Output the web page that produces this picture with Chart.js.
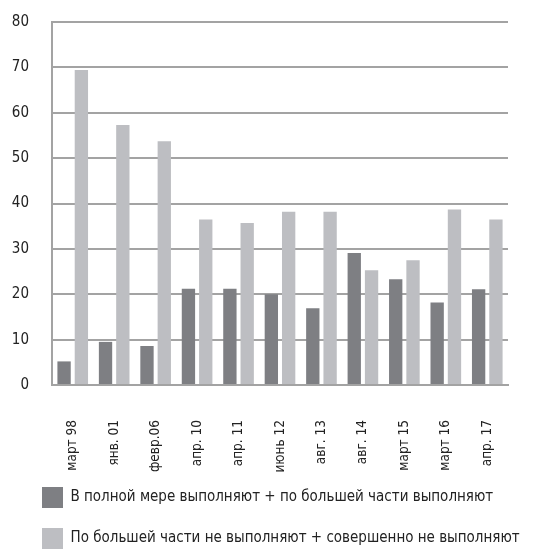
<!DOCTYPE html>
<html><head><meta charset="utf-8">
<script src="https://cdn.jsdelivr.net/npm/chart.js@4/dist/chart.umd.min.js"></script>
<style>html,body{margin:0;padding:0;background:#fff}#wrap{width:546px;height:552px}</style>
</head><body><div id="wrap"><canvas id="c"></canvas></div>
<script>
const categories = ['март 98','янв. 01','февр.06','апр. 10','апр. 11','июнь 12','авг. 13','авг. 14','март 15','март 16','апр. 17'];
const seriesNames = ['В полной мере выполняют + по большей части выполняют','По большей части не выполняют + совершенно не выполняют'];
const fulfil = [5.2, 9.5, 8.6, 21.2, 21.2, 20.0, 16.9, 29.1, 23.3, 18.2, 21.1];
const notFulfil = [69.4, 57.3, 53.7, 36.5, 35.7, 38.2, 38.2, 25.3, 27.5, 38.7, 36.5];
const yTicks = [0,10,20,30,40,50,60,70,80];

const FONT = "'Liberation Sans Narrow','DejaVu Sans Condensed','Liberation Sans',sans-serif";
const shiftLegend = {
  id: 'shiftLegend',
  afterLayout(chart) {
    const lg = chart.legend;
    if (lg) { lg.left += 22; lg.right += 22; }
    const x = chart.scales.x;
    if (x) { x.bottom += 20; }
  }
};
new Chart(document.getElementById('c'), {
  type: 'bar',
  data: {
    labels: categories,
    datasets: [
      {label: seriesNames[0], data: fulfil, backgroundColor: '#7e7f83', barPercentage: 0.77, categoryPercentage: 0.835},
      {label: seriesNames[1], data: notFulfil, backgroundColor: '#bdbec2', barPercentage: 0.77, categoryPercentage: 0.835}
    ]
  },
  plugins: [shiftLegend],
  options: {
    responsive: true, maintainAspectRatio: false, animation: false,
    layout: {padding: {left: 0, right: 38, top: 22, bottom: -7}},
    plugins: {
      tooltip: {enabled: false},
      legend: {
        position: 'bottom', align: 'start',
        labels: {boxWidth: 21, boxHeight: 21, padding: 20, color: '#222', font: {family: FONT, size: 15}}
      }
    },
    scales: {
      x: {
        afterFit: (s) => { s.height = 82; s.paddingLeft = 0; s.paddingRight = 0; },
        grid: {display: false, drawTicks: false},
        border: {color: '#a3a3a3', width: 2},
        ticks: {maxRotation: 90, minRotation: 90, padding: 35, color: '#222', font: {family: FONT, size: 13.5}}
      },
      y: {
        min: 0, max: 80,
        afterBuildTicks: (s) => { s.ticks = yTicks.map(v => ({value: v})); },
        afterFit: (s) => { s.width = 52; s.paddingTop = 0; s.paddingBottom = 0; },
        grid: {color: '#a3a3a3', lineWidth: 2, drawTicks: false},
        border: {color: '#a3a3a3', width: 2},
        ticks: {padding: 23, color: '#222', font: {family: FONT, size: 15}}
      }
    }
  }
});
</script></body></html>
